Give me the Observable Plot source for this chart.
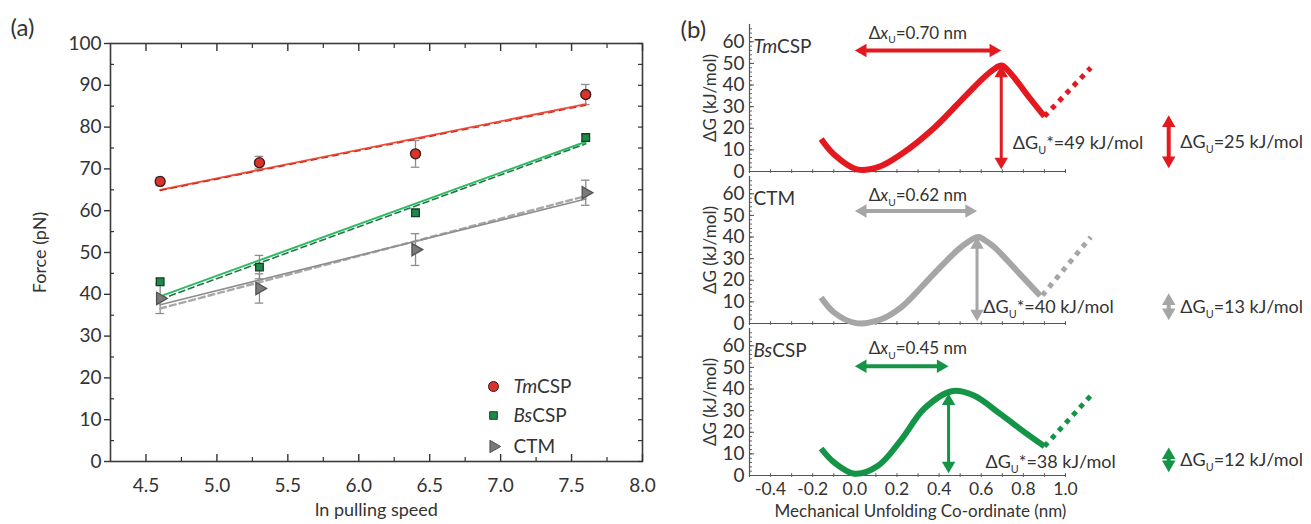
<!DOCTYPE html>
<html><head><meta charset="utf-8">
<script src="https://cdn.jsdelivr.net/npm/d3@7"></script>
<script src="https://cdn.jsdelivr.net/npm/@observablehq/plot@0.6"></script>
<style>
body{margin:0;background:#fff;}
#wrap{display:flex;width:1311px;height:524px;overflow:hidden;}
#wrap svg{display:block;flex:none;}
</style></head><body><div id="wrap"></div>
<script>
// ---------- Panel (a) data ----------
const speeds = [4.6, 5.3, 6.4, 7.6];
const tmForce = [67, 71.5, 73.6, 87.8];
const tmErr = [1.0, 1.5, 3.2, 2.4];
const bsForce = [43, 46.5, 59.5, 77.5];
const bsErr = [0.8, 2.8, 0.8, 0.8];
const ctmForce = [39, 41.4, 50.7, 64.3];
const ctmErr = [3.6, 3.5, 3.8, 3.0];
const fitX = [4.6, 7.6];
const tmFit = [65, 85.5];
const tmFitDashed = [64.8, 85.2];
const bsFit = [39.5, 76.5];
const bsFitDashed = [38.8, 76.0];
const ctmFit = [37.5, 62.8];
const ctmFitDashed = [36.6, 63.5];
const seriesNames = ["*Tm*CSP", "*Bs*CSP", "CTM"];
const forceTicks = [0,10,20,30,40,50,60,70,80,90,100];
const forceMinor = [5,15,25,35,45,55,65,75,85,95];
const speedTicks = [4.5,5.0,5.5,6.0,6.5,7.0,7.5,8.0];
const speedMinor = [4.75,5.25,5.75,6.25,6.75,7.25,7.75];

// ---------- Panel (b) data ----------
const proteins = ["TmCSP", "CTM", "BsCSP"];
const proteinLabels = ["*Tm*CSP", "CTM", "*Bs*CSP"];
const tmProfile = [[-0.16,15],[-0.10,8],[0.01,1],[0.11,2],[0.22,8],[0.38,20.5],[0.53,35.5],[0.63,45],[0.685,48.8],[0.70,49],[0.72,47.5],[0.76,43],[0.83,34],[0.90,25.5]];
const tmDotted = [[0.90,25.5],[1.12,48]];
const ctmProfile = [[-0.16,12],[-0.10,5.2],[0.0,0.3],[0.11,1.4],[0.22,7.5],[0.375,23],[0.50,35],[0.575,39.8],[0.59,40],[0.61,39],[0.66,35.5],[0.77,24.3],[0.88,12.8]];
const ctmDotted = [[0.89,13],[1.12,40]];
const bsProfile = [[-0.16,12.5],[-0.10,6.2],[0.0,0.8],[0.11,4.5],[0.22,16.5],[0.33,31],[0.46,39],[0.565,37],[0.69,28.5],[0.82,19],[0.90,13.5]];
const bsDotted = [[0.90,13.5],[1.13,38]];
const dxU = [0.70, 0.62, 0.45];
const barrierX = [0.695, 0.58, 0.445];
const dGStar = [49, 40, 38];
const dGU = [25, 13, 12];
const energyTicks = [0,10,20,30,40,50,60];
const energyMinor = [0,2,4,6,8,10,12,14,16,18,20,22,24,26,28,30,32,34,36,38,40,42,44,46,48,50,52,54,56,58,60,62,64,66];
const coordTicks = [-0.4,-0.2,0,0.2,0.4,0.6,0.8,1.0];
const coordMinor = [-0.5,-0.4,-0.3,-0.2,-0.1,0,0.1,0.2,0.3,0.4,0.5,0.6,0.7,0.8,0.9,1.0];

// ---------- annotation layout (positions only) ----------
const layout = {
  dxArrowY: [56, 52, 50.5],
  dxLabelX: 0.066,
  dxLabelY: [64, 59, 58.5],
  starLabelX: [0.75, 0.61, 0.62],
  starLabelY: [13, 7.5, 6],
  guX: 1.49,
  guLabelX: 1.545,
  guBase: 1.5
};

const FONT = "Lato, 'Open Sans', sans-serif";

// ---------- Panel (a) ----------
const aRows = [
  ...speeds.map((x,i)=>({s:0, x, y: tmForce[i], e: tmErr[i]})),
  ...speeds.map((x,i)=>({s:1, x, y: bsForce[i], e: bsErr[i]})),
  ...speeds.map((x,i)=>({s:2, x, y: ctmForce[i], e: ctmErr[i]}))
];
const fitRows = (vals, s) => fitX.map((x,i)=>({s, x, y: vals[i]}));

const legendMarks = [];
const legendSym = [
  {symbol:"circle", r:5, fill:"#d8332c", stroke:"#3a1a1a", rotate:0},
  {symbol:"square", r:4.3, fill:"#1d8a4a", stroke:"#173f27", rotate:0},
  {symbol:"triangle", r:4.6, fill:"#7a7a7a", stroke:"#505050", rotate:90}
];
const legendDy = [-75, -46, -15];
seriesNames.forEach((name,i)=>{
  legendMarks.push(Plot.dot([name], {frameAnchor:"bottom-right", dx:-149, dy:legendDy[i], ...legendSym[i], strokeWidth:1}));
  legendMarks.push(Plot.text([name], {frameAnchor:"bottom-right", dx:-129, dy:legendDy[i], text: d=>d, textAnchor:"start", lineAnchor:"middle", fontSize:19, fill:"#333"}));
});

const left = Plot.plot({
  width: 670, height: 524,
  marginLeft: 110, marginRight: 28, marginTop: 43, marginBottom: 63,
  x: {domain: [4.25, 8.0]},
  y: {domain: [0, 100]},
  style: {fontFamily: FONT, background: "white", color: "#333", overflow: "visible"},
  marks: [
    Plot.frame({stroke:"#3a3a3a", strokeWidth:1.6}),
    Plot.axisY({ticks: forceTicks, tickSize: 6, tickPadding: 3, fontSize: 19, label: null, strokeWidth:1.4}),
    Plot.axisY({ticks: forceMinor, tickSize: 4, dx: 4, fill: "none", label: null, strokeWidth:1.2}),
    Plot.axisY({anchor:"right", ticks: forceTicks.concat(forceMinor), tickSize: 5, dx: -5, fill:"none", label: null, strokeWidth:1.2}),
    Plot.axisX({ticks: speedTicks, tickSize: 7, dy: -7, fill:"none", label: null, strokeWidth:1.4}),
    Plot.axisX({ticks: speedMinor, tickSize: 4, dy: -4, fill:"none", label: null, strokeWidth:1.2}),
    Plot.axisX({ticks: speedTicks, tickSize: 0, tickPadding: 17, fontSize: 19, tickFormat: d=>d.toFixed(1), label: null}),
    Plot.axisX({anchor:"top", ticks: speedTicks, tickSize: 7, dy: 7, fill:"none", label: null, strokeWidth:1.4}),
    Plot.axisX({anchor:"top", ticks: speedMinor, tickSize: 4, dy: 4, fill:"none", label: null, strokeWidth:1.2}),
    Plot.text(["Force (pN)"], {frameAnchor:"left", dx:-70, rotate:-90, textAnchor:"middle", lineAnchor:"middle", fontSize:18, fill:"#333"}),
    Plot.text(["ln pulling speed"], {frameAnchor:"bottom", dy:49, lineAnchor:"middle", fontSize:18, fill:"#333"}),
    Plot.text(["(a)"], {frameAnchor:"top-left", dx:-100, dy:-25, textAnchor:"start", lineAnchor:"top", fontSize:24, fill:"#333"}),
    // error bars
    Plot.ruleX(aRows, {x:"x", y1: d=>d.y-d.e, y2: d=>d.y+d.e, stroke:"#8c8c8c", strokeWidth:1.3}),
    Plot.ruleY(aRows, {y: d=>d.y+d.e, x1: d=>d.x-0.03, x2: d=>d.x+0.03, stroke:"#8c8c8c", strokeWidth:1.3}),
    Plot.ruleY(aRows, {y: d=>d.y-d.e, x1: d=>d.x-0.03, x2: d=>d.x+0.03, stroke:"#8c8c8c", strokeWidth:1.3}),
    // fits
    Plot.line(fitRows(ctmFitDashed,2), {x:"x", y:"y", stroke:"#a8a8a8", strokeWidth:2.4, strokeDasharray:"6 4"}),
    Plot.line(fitRows(ctmFit,2), {x:"x", y:"y", stroke:"#8e8e8e", strokeWidth:1.6}),
    Plot.line(fitRows(bsFit,1), {x:"x", y:"y", stroke:"#30b865", strokeWidth:2}),
    Plot.line(fitRows(bsFitDashed,1), {x:"x", y:"y", stroke:"#1c7a43", strokeWidth:1.6, strokeDasharray:"6 4"}),
    Plot.line(fitRows(tmFit,0), {x:"x", y:"y", stroke:"#f04a36", strokeWidth:1.8}),
    Plot.line(fitRows(tmFitDashed,0), {x:"x", y:"y", stroke:"#c52c24", strokeWidth:1.2, strokeDasharray:"6 5"}),
    // points
    Plot.dot(aRows.filter(d=>d.s===0), {x:"x", y:"y", ...legendSym[0], strokeWidth:1.3}),
    Plot.dot(aRows.filter(d=>d.s===1), {x:"x", y:"y", ...legendSym[1], strokeWidth:1.3}),
    Plot.dot(aRows.filter(d=>d.s===2), {x:"x", y:"y", ...legendSym[2], strokeWidth:1.3}),
    ...legendMarks
  ]
});

// ---------- Panel (b) ----------
const bColors = ["#e3191f", "#a6a6a6", "#139447"];
const profiles = [tmProfile, ctmProfile, bsProfile];
const dotted = [tmDotted, ctmDotted, bsDotted];
const profileRows = proteins.flatMap((p,i)=>profiles[i].map(([x,y])=>({protein:p, x, y})));
const dottedRows = proteins.flatMap((p,i)=>dotted[i].map(([x,y])=>({protein:p, x, y})));
const dxArrows = proteins.map((p,i)=>({protein:p, x1:0, x2:barrierX[i], y:layout.dxArrowY[i]}));
const starArrows = proteins.map((p,i)=>({protein:p, x:barrierX[i], y1:1, y2:dGStar[i]}));
const guArrows = proteins.map((p,i)=>({protein:p, x:layout.guX, y1:layout.guBase, y2:dGU[i]+1}));
const nameRows = proteins.map((p,i)=>({protein:p, label:proteinLabels[i]}));
const dxLabels = proteins.map((p,i)=>({protein:p, x:layout.dxLabelX, y:layout.dxLabelY[i], label:`Δ*x*_U=${dxU[i].toFixed(2)} nm`}));
const starLabels = proteins.map((p,i)=>({protein:p, x:layout.starLabelX[i], y:layout.starLabelY[i], label:`ΔG_U*=${dGStar[i]} kJ/mol`}));
const guLabels = guArrows.map((d,i)=>({protein:d.protein, x:layout.guLabelX, y:(d.y1+d.y2)/2, label:`ΔG_U=${dGU[i]} kJ/mol`}));

const TIP = 7.8;
const headOpts = {symbol:"triangle", r:5, fill:"protein", stroke:"none", fy:"protein"};

const right = Plot.plot({
  width: 641, height: 524,
  marginLeft: 79, marginRight: 246, marginTop: 23, marginBottom: 48,
  x: {domain: [-0.5, 1.0]},
  y: {domain: [0, 68]},
  fy: {domain: proteins, axis: null, paddingInner: 0.03, paddingOuter: 0},
  color: {domain: proteins, range: bColors},
  style: {fontFamily: FONT, background: "white", color: "#333", overflow: "visible"},
  marks: [
    Plot.axisY({ticks: energyTicks, tickSize: 0, tickPadding: 5, fontSize: 19, label: null}),
    Plot.axisY({ticks: energyMinor, tickSize: 3, dx: 3, fill: "none", label: null, stroke:"#666"}),
    Plot.axisY({ticks: energyTicks, tickSize: 5, dx: 5, fill: "none", label: null, stroke:"#555"}),
    Plot.axisX({ticks: coordMinor, tickSize: 4, dy: -2, fill: "none", label: null, facetAnchor: null, stroke:"#666"}),
    Plot.axisX({ticks: coordTicks, tickSize: 0, tickPadding: 7, fontSize: 17.5, tickFormat: d=>d.toFixed(1), label: null}),
    Plot.frame({anchor:"left", stroke:"#555", strokeWidth:1.2}),
    Plot.frame({anchor:"bottom", stroke:"#555", strokeWidth:1.2}),
    Plot.text(["ΔG (kJ/mol)"], {frameAnchor:"left", dx:-39, rotate:-90, textAnchor:"middle", lineAnchor:"middle", fontSize:17, fill:"#333"}),
    Plot.text([{protein:"TmCSP"}], {fy:"protein", text: ()=>"(b)", frameAnchor:"top-left", dx:-69, dy:-4, textAnchor:"start", lineAnchor:"top", fontSize:24, fill:"#333"}),
    Plot.text([{protein:"BsCSP"}], {fy:"protein", text: ()=>"Mechanical Unfolding Co-ordinate (nm)", frameAnchor:"bottom", dx:13, dy:36, lineAnchor:"middle", fontSize:17, fill:"#333"}),
    Plot.text(nameRows, {fy:"protein", text:"label", frameAnchor:"top-left", dx:4, dy:22, textAnchor:"start", lineAnchor:"middle", fontSize:19, fill:"#333"}),
    // profiles
    Plot.line(dottedRows, {x:"x", y:"y", fy:"protein", stroke:"protein", strokeWidth:5, strokeDasharray:"5 5.5", strokeLinecap:"butt"}),
    Plot.line(profileRows, {x:"x", y:"y", fy:"protein", stroke:"protein", strokeWidth:6, curve:"catmull-rom", strokeLinecap:"butt"}),
    // horizontal dx arrows
    Plot.arrow(dxArrows, {x1:"x1", x2:"x2", y1:"y", y2:"y", fy:"protein", stroke:"protein", strokeWidth:4, headLength:0, inset:6, bend:0}),
    Plot.dot(dxArrows, {x:"x1", y:"y", rotate:-90, dx:TIP, ...headOpts}),
    Plot.dot(dxArrows, {x:"x2", y:"y", rotate:90, dx:-TIP, ...headOpts}),
    // vertical barrier arrows
    Plot.arrow(starArrows, {x1:"x", x2:"x", y1:"y1", y2:"y2", fy:"protein", stroke:"protein", strokeWidth:3, headLength:0, inset:6, bend:0}),
    Plot.dot(starArrows, {x:"x", y:"y2", rotate:0, dy:TIP, ...headOpts}),
    Plot.dot(starArrows, {x:"x", y:"y1", rotate:180, dy:-TIP, ...headOpts}),
    // right column dGU arrows
    Plot.arrow(guArrows, {x1:"x", x2:"x", y1:"y1", y2:"y2", fy:"protein", stroke:"protein", strokeWidth:4, headLength:0, inset:6, bend:0}),
    Plot.dot(guArrows, {x:"x", y:"y2", rotate:0, dy:TIP, ...headOpts}),
    Plot.dot(guArrows, {x:"x", y:"y1", rotate:180, dy:-TIP, ...headOpts}),
    // labels
    Plot.text(dxLabels, {x:"x", y:"y", fy:"protein", text:"label", textAnchor:"start", fontSize:17, fill:"#333"}),
    Plot.text(starLabels, {x:"x", y:"y", fy:"protein", text:"label", textAnchor:"start", fontSize:18, fill:"#333"}),
    Plot.text(guLabels, {x:"x", y:"y", fy:"protein", text:"label", textAnchor:"start", fontSize:18, fill:"#333"})
  ]
});

const wrap = document.getElementById("wrap");
wrap.appendChild(left);
wrap.appendChild(right);

// rich text: *italic* and _X subscript
function richify(svg){
  d3.select(svg).selectAll("text").each(function(){
    if (this.querySelector("tspan")) return;
    const t = this.textContent;
    if (!/\*[^*]+\*|_[A-Za-z]/.test(t)) return;
    const fs = parseFloat(getComputedStyle(this).fontSize) || 16;
    const parts = t.split(/(\*[^*]+\*|_[A-Za-z])/).filter(s=>s.length);
    this.textContent = "";
    let shifted = false;
    for (const p of parts){
      const ts = document.createElementNS("http://www.w3.org/2000/svg","tspan");
      if (p.startsWith("_") && p.length===2){
        ts.textContent = p.slice(1);
        ts.setAttribute("font-size", (fs*0.6).toFixed(1));
        ts.setAttribute("dy", (fs*0.28).toFixed(1));
        shifted = true;
      } else if (p.startsWith("*") && p.endsWith("*") && p.length>2){
        ts.textContent = p.slice(1,-1);
        ts.setAttribute("font-style","italic");
        if (shifted){ ts.setAttribute("dy", (-fs*0.28).toFixed(1)); shifted=false; }
      } else {
        ts.textContent = p;
        if (shifted){ ts.setAttribute("dy", (-fs*0.28).toFixed(1)); shifted=false; }
      }
      this.appendChild(ts);
    }
  });
}
richify(left);
richify(right);
</script>
</body></html>
